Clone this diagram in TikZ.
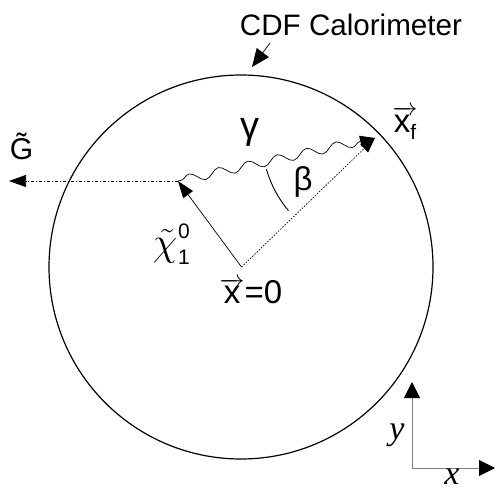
\documentclass[tikz,border=0pt]{standalone}
\usepackage{fontspec}
\usepackage{graphicx}
\setmainfont{Liberation Sans}
\newfontfamily\timesfont{Liberation Serif}
\usetikzlibrary{arrows.meta,decorations.pathmorphing}
\begin{document}
\begin{tikzpicture}[x=1pt,y=1pt,
  lbl/.style={font=\fontsize{33}{36}\selectfont, inner sep=0pt},
  small/.style={font=\fontsize{21}{22}\selectfont, inner sep=0pt},
  axlbl/.style={font=\timesfont\itshape\fontsize{34}{36}\selectfont, inner sep=0pt},
  tip/.style={-{Triangle[length=17pt,width=12pt]}},
  thin line/.style={line width=0.7pt},
  photon/.style={thin line, -{Triangle[length=15pt,width=11pt]}, decorate,
    decoration={snake, amplitude=4.5pt, segment length=30pt, pre length=3pt, post length=14pt}},
  axis/.style={line width=1pt, draw=gray, -{Triangle[length=16pt,width=16pt,color=black]}}
]
\useasboundingbox (0,0) rectangle (496,491);
% calorimeter
\coordinate (calC) at (241,224);
\draw[line width=1.2pt] (calC) circle[radius=192];
\node[font=\fontsize{29.6}{32}\selectfont, inner sep=0pt] (caltxt) at (351,466) {CDF Calorimeter};
\coordinate (calA) at (270,448);
\coordinate (calB) at (252,424);
\draw[thin line, -{Triangle[length=18pt,width=15pt]}] (calA) -- (calB);
% points
\coordinate (O) at (241.5,224);
\coordinate (C) at (178,310);
\coordinate (F) at (375,353);
\coordinate (Gend) at (9,310);
% lines
\draw[thin line, tip] (O) -- (C);
\draw[thin line, -{Triangle[length=17pt,width=12pt]}, dash pattern=on 3pt off 2pt on 1pt off 2pt] (C) -- (Gend);
\draw[thin line, -{Triangle[length=15pt,width=11pt]}, dash pattern=on 1.5pt off 1.5pt] (O) -- (F);
\draw[photon] (C) -- (F);
% beta arc
\draw[line width=0.9pt] ([shift={(196:113)}]F) arc[start angle=196, end angle=220, radius=113];
% labels
\node[lbl, font=\fontsize{38}{40}\selectfont] (gamma) at (250,359) {γ};
\node[lbl] (beta) at (303,309) {β};
\node[lbl, font=\fontsize{30}{32}\selectfont] (G) at (21.5,345) {G̃};
\node[lbl] (xf) at (405,368) {\(\overrightarrow{\mbox{x\raisebox{-7pt}{\fontsize{21}{21}\selectfont f}}}\)};
\node[lbl] (x0) at (251,200) {\(\overrightarrow{\mbox{x}}\)=0};
\node[lbl] (chi) at (165,245) {\scalebox{1.6}{\(\tilde{\chi}\)}};
\node[small] (chisup) at (184,260) {0};
\node[small] (chisub) at (184,234) {1};
% axes
\coordinate (A0) at (412,23);
\coordinate (AY) at (412,109);
\coordinate (AX) at (495,23);
\draw[axis] (A0) -- (AY);
\draw[axis] (A0) -- (AX);
\node[axlbl] (xl) at (452,14) {x};
\node[axlbl] (yl) at (397,56) {y};
\end{tikzpicture}
\end{document}
